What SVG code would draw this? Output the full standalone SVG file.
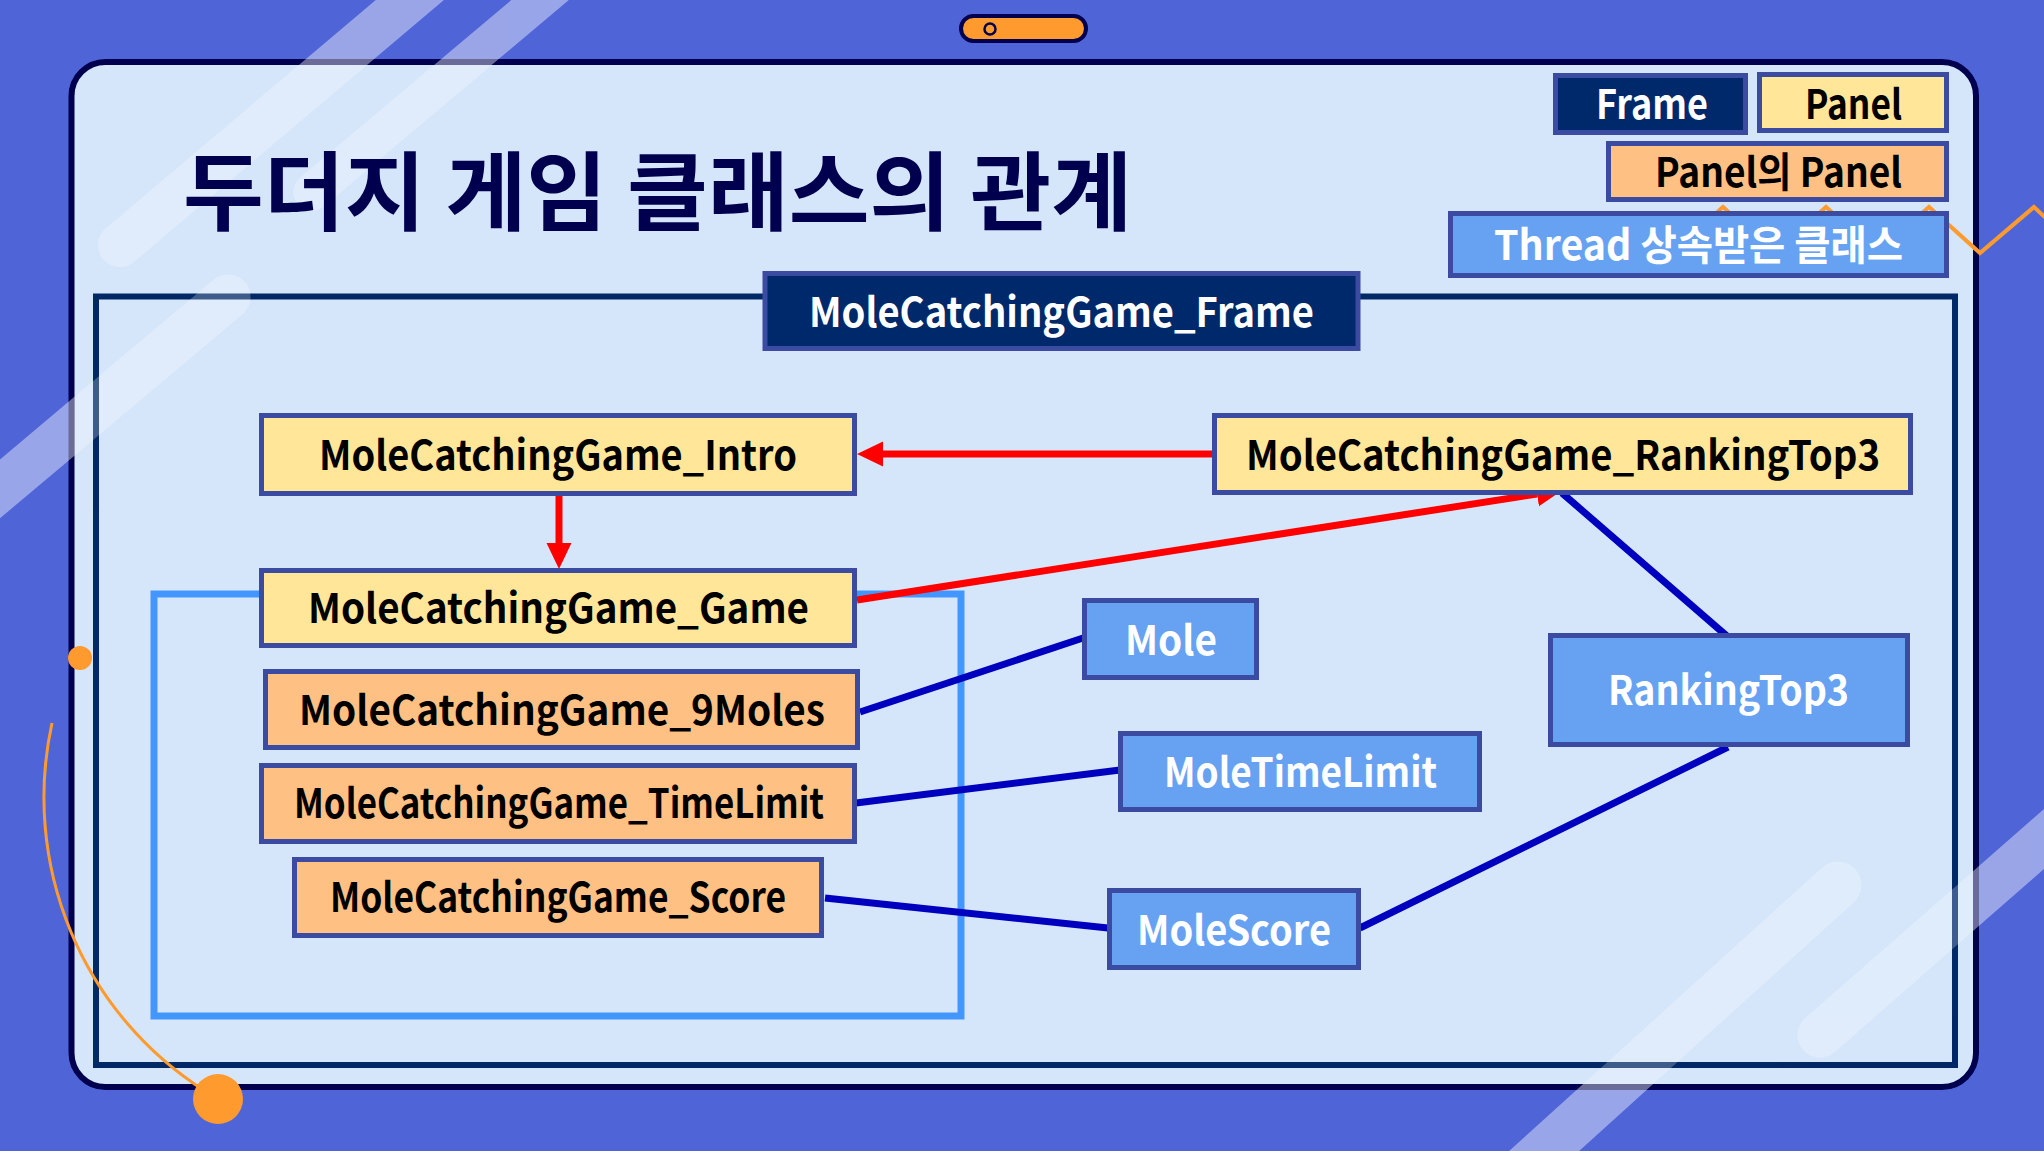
<svg xmlns="http://www.w3.org/2000/svg" width="2044" height="1151" viewBox="0 0 2044 1151">
  <defs>
    <style>
      .lbl { font-family: "Noto Sans CJK KR", "Noto Sans", "Liberation Sans", sans-serif; font-weight: 700; font-size: 41px; }
      .dark { fill: #ffffff; }
      .ink { fill: #000000; }
      .box { stroke: #3B4BA1; stroke-width: 5; }
      .frame { fill: #00296B; }
      .panel { fill: #FFE699; }
      .sub { fill: #FFC083; }
      .thread { fill: #67A2F2; }
      .strip { stroke: #ffffff; stroke-linecap: round; fill: none; }
      .red { stroke: #FF0000; stroke-width: 7; fill: none; }
      .blue { stroke: #0000BF; stroke-width: 7; fill: none; }
      .orange { fill: #FF9A2E; }
    </style>
    <marker id="arrow" markerUnits="userSpaceOnUse" markerWidth="27" markerHeight="26" refX="0" refY="13" orient="auto">
      <path d="M0,0.5 L26,13 L0,25.5 Z" fill="#FF0000"/>
    </marker>
    <!-- card interior and everything outside it -->
    <clipPath id="cardInside">
      <rect x="74.5" y="65" width="1898.5" height="1019" rx="31"/>
    </clipPath>
    <clipPath id="cardOutside">
      <path clip-rule="evenodd" d="M0,0 H2044 V1151 H0 Z M105.5,65 H1942 A31,31 0 0 1 1973,96 V1053 A31,31 0 0 1 1942,1084 H105.5 A31,31 0 0 1 74.5,1053 V96 A31,31 0 0 1 105.5,65 Z"/>
    </clipPath>
    <g id="stripSet">
      <line class="strip" x1="469" y1="-50" x2="120" y2="245" stroke-width="44"/>
      <line class="strip" x1="590" y1="-42" x2="312" y2="192" stroke-width="37"/>
      <line class="strip" x1="228" y1="297" x2="-100" y2="573" stroke-width="45"/>
      <line class="strip" x1="1838" y1="885" x2="1490" y2="1200" stroke-width="47"/>
      <line class="strip" x1="1820" y1="1035" x2="2100" y2="790" stroke-width="45"/>
    </g>
  </defs>

  <!-- backdrop -->
  <rect x="0" y="0" width="2044" height="1151" fill="#4F65D7"/>

  <!-- slide card -->
  <rect x="71.5" y="62" width="1904.5" height="1025" rx="34" fill="#D6E6FA" stroke="#00004F" stroke-width="6"/>

  <!-- outer frame border -->
  <rect x="96" y="296.5" width="1859" height="768.5" fill="none" stroke="#002966" stroke-width="6"/>

  <!-- game panel group outline -->
  <rect x="154" y="594" width="807" height="422" fill="none" stroke="#4496FF" stroke-width="7"/>

  <!-- glass highlight strips -->
  <g id="highlights">
    <use href="#stripSet" clip-path="url(#cardOutside)" opacity="0.42"/>
    <use href="#stripSet" clip-path="url(#cardInside)" opacity="0.24"/>
  </g>

  <!-- orange decorations -->
  <g id="decor">
    <polyline points="1690,237 1723,207 1774,253 1826,207 1877,253 1929,207 1980,253 2034,207 2050,222" fill="none" stroke="#FF9A2E" stroke-width="4" stroke-linejoin="miter"/>
    <path d="M52,723 A348,348 0 0 0 205,1091" fill="none" stroke="#FF9A2E" stroke-width="3"/>
    <circle class="orange" cx="80" cy="658" r="12"/>
    <circle class="orange" cx="218" cy="1099" r="25"/>
    <rect x="961" y="16" width="125" height="25" rx="12.5" fill="#FF9A2E" stroke="#00004F" stroke-width="4"/>
    <circle cx="990" cy="29" r="5.5" fill="#FF9A2E" stroke="#00004F" stroke-width="2.5"/>
  </g>

  <!-- title -->
  <text x="183" y="224" font-family="Noto Sans CJK KR, Noto Sans, sans-serif" font-weight="700" font-size="86" fill="#00004F" textLength="949" lengthAdjust="spacingAndGlyphs">두더지 게임 클래스의 관계</text>

  <!-- legend -->
  <g id="legend-frame">
    <rect class="box frame" x="1555.5" y="75.5" width="190" height="57"/>
    <text class="lbl dark" x="1596" y="119" font-size="40" textLength="112" lengthAdjust="spacingAndGlyphs">Frame</text>
  </g>
  <g id="legend-panel">
    <rect class="box panel" x="1759.5" y="74.5" width="187" height="56"/>
    <text class="lbl ink" x="1805" y="119" font-size="40" textLength="97" lengthAdjust="spacingAndGlyphs">Panel</text>
  </g>
  <g id="legend-subpanel">
    <rect class="box sub" x="1608.5" y="143.5" width="338" height="56"/>
    <text class="lbl ink" x="1655" y="187" font-size="40" textLength="247" lengthAdjust="spacingAndGlyphs">Panel의 Panel</text>
  </g>
  <g id="legend-thread">
    <rect class="box thread" x="1450.5" y="213.5" width="496" height="62"/>
    <text class="lbl dark" x="1494" y="260" font-size="40" textLength="409" lengthAdjust="spacingAndGlyphs">Thread 상속받은 클래스</text>
  </g>

  <!-- connectors -->
  <g id="connectors">
    <line class="red" x1="1212" y1="454" x2="883" y2="454" marker-end="url(#arrow)"/>
    <line class="red" x1="559" y1="496" x2="559" y2="543" marker-end="url(#arrow)"/>
    <line class="red" x1="857" y1="600" x2="1537" y2="494" marker-end="url(#arrow)"/>
    <line class="blue" x1="860" y1="712" x2="1083" y2="638"/>
    <line class="blue" x1="856" y1="803" x2="1120" y2="770"/>
    <line class="blue" x1="825" y1="898" x2="1108" y2="928"/>
    <line class="blue" x1="1360" y1="928" x2="1728" y2="747"/>
    <line class="blue" x1="1562" y1="493" x2="1728" y2="637"/>
  </g>

  <!-- nodes -->
  <g id="node-frame">
    <rect class="box frame" x="765" y="273.5" width="593" height="75"/>
    <text class="lbl dark" x="809" y="327" textLength="505" lengthAdjust="spacingAndGlyphs">MoleCatchingGame_Frame</text>
  </g>
  <g id="node-intro">
    <rect class="box panel" x="261.5" y="415.5" width="593" height="78"/>
    <text class="lbl ink" x="319" y="470" textLength="478" lengthAdjust="spacingAndGlyphs">MoleCatchingGame_Intro</text>
  </g>
  <g id="node-game">
    <rect class="box panel" x="261.5" y="570.5" width="593" height="75"/>
    <text class="lbl ink" x="308" y="623" textLength="501" lengthAdjust="spacingAndGlyphs">MoleCatchingGame_Game</text>
  </g>
  <g id="node-9moles">
    <rect class="box sub" x="265.5" y="671.5" width="592" height="76"/>
    <text class="lbl ink" x="299" y="725" textLength="526" lengthAdjust="spacingAndGlyphs">MoleCatchingGame_9Moles</text>
  </g>
  <g id="node-timelimit">
    <rect class="box sub" x="261.5" y="765.5" width="593" height="76"/>
    <text class="lbl ink" x="294" y="818" textLength="530" lengthAdjust="spacingAndGlyphs">MoleCatchingGame_TimeLimit</text>
  </g>
  <g id="node-score">
    <rect class="box sub" x="294.5" y="859.5" width="527" height="76"/>
    <text class="lbl ink" x="330" y="912" textLength="456" lengthAdjust="spacingAndGlyphs">MoleCatchingGame_Score</text>
  </g>
  <g id="node-ranking-panel">
    <rect class="box panel" x="1214.5" y="415.5" width="696" height="77"/>
    <text class="lbl ink" x="1246" y="470" textLength="634" lengthAdjust="spacingAndGlyphs">MoleCatchingGame_RankingTop3</text>
  </g>
  <g id="node-mole">
    <rect class="box thread" x="1084.5" y="600.5" width="172" height="77"/>
    <text class="lbl dark" x="1125" y="655" textLength="92" lengthAdjust="spacingAndGlyphs">Mole</text>
  </g>
  <g id="node-moletimelimit">
    <rect class="box thread" x="1120.5" y="733.5" width="359" height="76"/>
    <text class="lbl dark" x="1164" y="787" textLength="273" lengthAdjust="spacingAndGlyphs">MoleTimeLimit</text>
  </g>
  <g id="node-molescore">
    <rect class="box thread" x="1109.5" y="890.5" width="249" height="77"/>
    <text class="lbl dark" x="1137" y="945" textLength="194" lengthAdjust="spacingAndGlyphs">MoleScore</text>
  </g>
  <g id="node-rankingtop3">
    <rect class="box thread" x="1550.5" y="635.5" width="357" height="109"/>
    <text class="lbl dark" x="1608" y="705" textLength="241" lengthAdjust="spacingAndGlyphs">RankingTop3</text>
  </g>
</svg>
